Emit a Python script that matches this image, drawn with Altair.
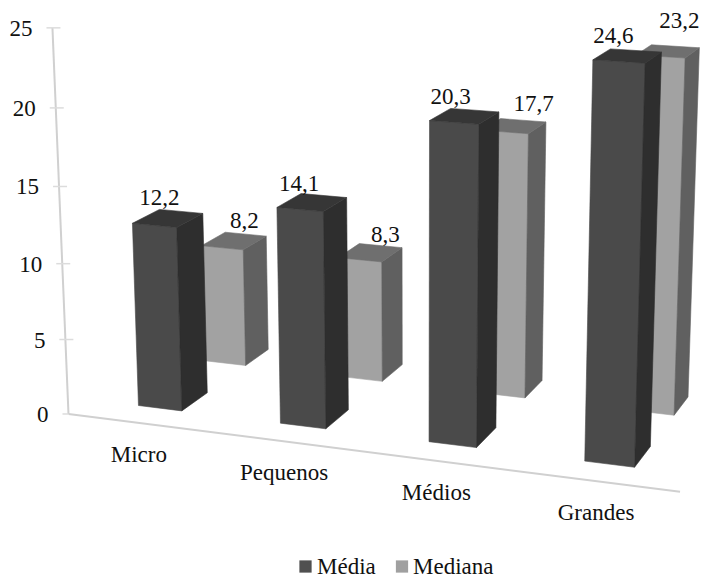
import altair as alt
import numpy as np
import pandas as pd

# Chart content
categories = ["Micro", "Pequenos", "Médios", "Grandes"]
media = [12.2, 14.1, 20.3, 24.6]
mediana = [8.2, 8.3, 17.7, 23.2]
series_names = ["Média", "Mediana"]
value_ticks = [0, 5, 10, 15, 20, 25]

# Size of the drawing, in the units of the x and y scales
WIDTH, HEIGHT = 701, 575

# Pinhole camera of the 3-D scene: world (slot, value, depth) -> picture plane
CAMERA = np.array([
    [135.714512, -0.725511, 30.271769, 138.467314],
    [8.239687, -15.322117, -8.573751, 405.485079],
    [-0.02231, -0.001743, 0.024, 1.0],
])
BAR_WIDTH = 0.31     # share of a category slot
BAR_DEPTH = 1.0
ROW_OFFSET = 2.6     # depth at which the second series' row starts
WALL_SLOT = -0.346   # where the value axis stands
FLOOR_END = 3.662    # where the floor edge ends
FLOOR_DEPTH = -0.786

FONT = "Liberation Serif"
SHADES = {
    "Média": {"front": "#4a4a4a", "side": "#2e2e2e", "top": "#363636"},
    "Mediana": {"front": "#a2a2a2", "side": "#606060", "top": "#6f6f6f"},
}
LEGEND_SWATCH = {"Média": "#505050", "Mediana": "#a0a0a0"}
# Screen nudges of the value labels from each bar's rear left top corner
LABEL_NUDGE = {
    "Média": [(0, -11), (-2, -10), (0, -11), (3, -13)],
    "Mediana": [(19, -11), (26, -9), (33, -15), (28, -24)],
}


def project(slot, value, depth):
    px, py, w = CAMERA @ np.array([slot, value, depth, 1.0])
    return float(px / w), float(py / w)


# Faces of every column, rear row first so that the front row covers it
face_rows = []
label_rows = []
for name, values in reversed(list(zip(series_names, [media, mediana]))):
    z0 = ROW_OFFSET if name == "Mediana" else 0.0
    z1 = z0 + BAR_DEPTH
    for k, v in enumerate(values):
        x0, x1 = k, k + BAR_WIDTH
        faces = {
            "front": [(x0, v, z0), (x1, v, z0), (x1, 0, z0), (x0, 0, z0)],
            "side": [(x1, v, z0), (x1, v, z1), (x1, 0, z1), (x1, 0, z0)],
            "top": [(x0, v, z0), (x0, v, z1), (x1, v, z1), (x1, v, z0)],
        }
        for face, corners in faces.items():
            for i, corner in enumerate(corners + corners[:1]):
                px, py = project(*corner)
                face_rows.append({
                    "poly": f"{name}-{k}-{face}", "i": i, "px": px, "py": py,
                    "shade": SHADES[name][face],
                })
        nx, ny = LABEL_NUDGE[name][k]
        px, py = project(x0, v, z1)
        label_rows.append({
            "px": px + nx, "py": py + ny,
            "text": f"{v:.1f}".replace(".", ","),
        })

# Value axis, floor edge and tick marks
rule_rows = []
ax0 = project(WALL_SLOT, 0, FLOOR_DEPTH)
ax1 = project(WALL_SLOT, value_ticks[-1], FLOOR_DEPTH)
end = project(FLOOR_END, 0, FLOOR_DEPTH)
rule_rows.append({"x": ax0[0], "y": ax0[1], "x2": ax1[0], "y2": ax1[1]})
rule_rows.append({"x": ax0[0], "y": ax0[1], "x2": end[0], "y2": end[1]})

tick_rows = []
tick_label_rows = []
for t in value_ticks:
    px, py = project(WALL_SLOT, t, FLOOR_DEPTH)
    right = 0 if t == 0 else 8
    tick_rows.append({"x": px - 6, "y": py, "x2": px + right, "y2": py})
    tick_label_rows.append({"px": px - 20, "py": py + 1, "text": str(t)})

# Category names hang below the floor edge, centred under the front columns
category_rows = []
for k, name in enumerate(categories):
    px, py = project(k + BAR_WIDTH / 2, 0, FLOOR_DEPTH)
    category_rows.append({"px": px, "py": py + 32, "text": name})

legend_swatches = pd.DataFrame([
    {"px": 305.5, "py": 566.5, "shade": LEGEND_SWATCH["Média"]},
    {"px": 402.0, "py": 566.5, "shade": LEGEND_SWATCH["Mediana"]},
])
legend_labels = pd.DataFrame([
    {"px": 317, "py": 573.5, "text": "Média"},
    {"px": 413, "py": 573.5, "text": "Mediana"},
])

x_scale = alt.Scale(domain=[0, WIDTH], range=[0, WIDTH], nice=False, zero=False)
y_scale = alt.Scale(domain=[0, HEIGHT], range=[0, HEIGHT], nice=False, zero=False)
X = alt.X("px:Q", scale=x_scale, axis=None)
Y = alt.Y("py:Q", scale=y_scale, axis=None)

axis_lines = alt.Chart(pd.DataFrame(rule_rows)).mark_rule(
    color="#d0d0d0", strokeWidth=2
).encode(
    x=alt.X("x:Q", scale=x_scale, axis=None), x2="x2:Q",
    y=alt.Y("y:Q", scale=y_scale, axis=None), y2="y2:Q",
)
ticks = alt.Chart(pd.DataFrame(tick_rows)).mark_rule(
    color="#dcdcdc", strokeWidth=1.5
).encode(
    x=alt.X("x:Q", scale=x_scale, axis=None), x2="x2:Q",
    y=alt.Y("y:Q", scale=y_scale, axis=None), y2="y2:Q",
)
columns = alt.Chart(pd.DataFrame(face_rows)).mark_line(strokeWidth=0.6, interpolate="linear").encode(
    x=X, y=Y,
    detail="poly:N",
    order="i:Q",
    fill=alt.Fill("shade:N", scale=None),
    stroke=alt.Stroke("shade:N", scale=None),
)


def text_layer(rows, align, baseline, size):
    return alt.Chart(pd.DataFrame(rows)).mark_text(
        font=FONT, fontSize=size, align=align, baseline=baseline, color="#111111"
    ).encode(x=X, y=Y, text="text:N")


tick_labels = text_layer(tick_label_rows, "right", "middle", 23)
category_labels = text_layer(category_rows, "center", "middle", 23)
value_labels = text_layer(label_rows, "center", "middle", 23)
legend_text = text_layer(legend_labels, "left", "alphabetic", 23)
swatches = alt.Chart(legend_swatches).mark_square(size=150, opacity=1).encode(
    x=X, y=Y, color=alt.Color("shade:N", scale=None)
)

chart = alt.layer(
    axis_lines, ticks, columns, tick_labels, category_labels, value_labels,
    swatches, legend_text,
).properties(
    width=WIDTH, height=HEIGHT, padding=0, autosize=alt.AutoSizeParams(type="none"),
    background="#ffffff",
).configure_view(stroke=None)

chart.save("out.html", embed_options={"renderer": "svg", "actions": False})
